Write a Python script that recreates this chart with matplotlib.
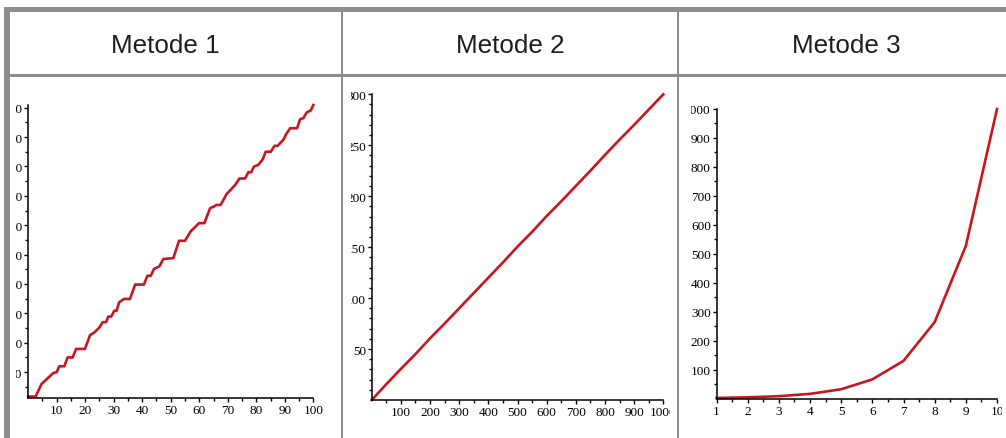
import matplotlib
matplotlib.use("Agg")
import matplotlib.pyplot as plt
from matplotlib.patches import Rectangle
from matplotlib.transforms import Bbox, TransformedBbox

W, H = 1006, 439

headers = ["Metode 1", "Metode 2", "Metode 3"]

# Metode 1: staircase-like growth
m1_x = [0, 2.6, 4.7, 8.8, 10, 10.9, 12.7, 13.8, 15.6, 16.8,
        19.9, 21.7, 23.2, 25, 26.1, 27.3, 28.1, 29.1, 30.2, 31,
        31.9, 33.6, 35.7, 37.5, 40.6, 41.8, 43, 44.1, 46, 47.4,
        50.9, 52.9, 55, 57, 59.9, 61.8, 63.8, 65, 66.1, 67.5,
        69.6, 72.6, 74.1, 76.1, 77.2, 78.2, 79.2, 80.7, 82.3, 83.3,
        85.1, 86.4, 87.5, 89.5, 90.5, 91.9, 94.3, 95.4, 96.5, 97.7,
        99.1, 100]
m1_y = [1.7, 1.7, 6.0, 9.7, 10, 12, 12, 15, 15, 17.9,
        17.9, 22.6, 23.5, 25.2, 27, 27, 28.9, 28.9, 30.9, 30.9,
        33.8, 34.9, 34.9, 39.8, 39.8, 42.8, 42.8, 45.1, 46, 48.5,
        48.8, 54.7, 54.7, 57.9, 60.7, 60.7, 65.8, 66.3, 66.9, 66.9,
        70.6, 73.7, 75.9, 75.9, 78, 78, 80, 80.5, 82.5, 85,
        85, 87, 87, 89.1, 91, 93, 93, 96.1, 96.4, 98.4,
        99, 100.9]

# Metode 2: almost straight line
m2_x = [0, 50, 100, 150, 200, 250, 300, 350, 400, 450, 500,
        550, 600, 650, 700, 750, 800, 850, 900, 950, 1000]
m2_y = [0, 15.5, 30.5, 45, 60.5, 75, 90, 105, 120, 135, 150.5,
        165, 180.5, 195, 210, 225, 240.5, 255.5, 270, 285, 300]

# Metode 3: doubling each step
m3_x = [1, 2, 3, 4, 5, 6, 7, 8, 9, 10]
m3_y = [2, 4, 8, 16, 32, 66, 130, 264, 527, 1000]

RED = "#c8161e"
GREY = "#8d8d8f"

fig = plt.figure(figsize=(W / 100, H / 100), dpi=100)


def fx(px):
    return px / W


def fy(py):
    return 1 - py / H


def bar(x0, y0, x1, y1):
    fig.add_artist(Rectangle((fx(x0), fy(y1)), fx(x1) - fx(x0), fy(y0) - fy(y1),
                             transform=fig.transFigure, facecolor=GREY,
                             edgecolor="none", zorder=5))


# table borders
bar(4, 8.3, W, 13.3)
bar(4, 8.3, 10, H)
bar(4, 75, W, 78)
bar(340.7, 8.3, 343.3, H)
bar(676.7, 8.3, 679.3, H)

for cx, txt in zip([165, 510, 846], headers):
    fig.text(fx(cx), fy(53.3), txt, ha="center", va="baseline",
             fontsize=18.7, family="Liberation Sans", color="#1e1e1e")


def make_panel(box, clip, x, y, xlim, ylim, xmaj, xmin, ymaj, ymin):
    left, top, right, bottom = box
    ax = fig.add_axes([fx(left), fy(bottom), fx(right) - fx(left), fy(top) - fy(bottom)])
    ax.plot(x, y, color=RED, lw=1.9, clip_on=False, solid_joinstyle="round")
    ax.set_xlim(*xlim)
    ax.set_ylim(*ylim)
    ax.set_xticks(xmaj, labels=[str(v) for v in xmaj])
    ax.set_xticks(xmin, minor=True)
    ax.set_yticks(ymaj, labels=[str(v) for v in ymaj])
    ax.set_yticks(ymin, minor=True)
    for s in ["top", "right"]:
        ax.spines[s].set_visible(False)
    for s in ["left", "bottom"]:
        ax.spines[s].set_linewidth(1.1)
    ax.tick_params(which="major", length=2.6, width=1.0, labelsize=9.5, pad=2)
    ax.tick_params(which="minor", length=2.0, width=1.0)
    ax.tick_params(axis="y", pad=1.5)
    ax.patch.set_alpha(0)
    # the cell crops the plot image, so labels are cut at its edges
    cb = TransformedBbox(Bbox.from_extents(fx(clip[0]), fy(H), fx(clip[1]), fy(78)),
                         fig.transFigure)
    for lab in ax.get_xticklabels() + ax.get_yticklabels():
        lab.set_family("Liberation Serif")
        lab.set_clip_box(cb)
        lab.set_clip_on(True)
    return ax


make_panel((28.2, 106, 313.3, 399), (16, 338), m1_x, m1_y, (0, 100), (1.2, 100.9),
           list(range(10, 101, 10)), list(range(5, 100, 10)),
           list(range(10, 101, 10)), list(range(5, 100, 10)))

make_panel((371.7, 95.3, 663.3, 401), (351, 670), m2_x, m2_y, (0, 1000), (0, 300),
           list(range(100, 1001, 100)), list(range(50, 1000, 100)),
           list(range(50, 301, 50)), [v for v in range(10, 300, 10) if v % 50])

make_panel((716.5, 110, 997, 399.5), (690.5, 1002), m3_x, m3_y, (1, 10), (0, 1000),
           list(range(1, 11)), [v + 0.5 for v in range(1, 10)],
           list(range(100, 1001, 100)), list(range(50, 1000, 100)))

fig.savefig("out.png", dpi=100)
